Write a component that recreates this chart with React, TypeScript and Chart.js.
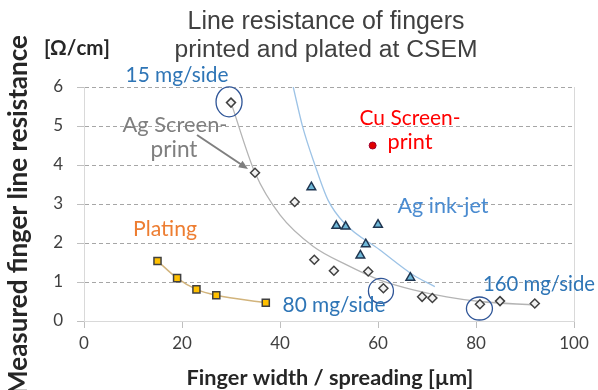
import React, { useEffect, useRef } from "react";
import { Chart, registerables } from "chart.js";

Chart.register(...registerables);

// ---- data ----
const screenX = [30.0, 34.9, 43.0, 47.0, 51.0, 58.0, 61.1, 69.0, 71.1, 80.8, 84.9, 92.0];
const screenY = [5.6, 3.8, 3.05, 1.57, 1.29, 1.27, 0.84, 0.62, 0.59, 0.43, 0.51, 0.45];
const inkjetX = [46.4, 51.5, 53.4, 60.0, 57.5, 56.4, 66.6];
const inkjetY = [3.43, 2.44, 2.42, 2.47, 1.97, 1.68, 1.11];
const platingX = [15.0, 19.0, 22.95, 27.0, 37.1];
const platingY = [1.54, 1.1, 0.81, 0.66, 0.47];
const cuX = [58.9];
const cuY = [4.5];
const screenTrendX = [30, 34.9, 40, 46.8, 53.6, 60.4, 67.2, 74.0, 80.8, 92.0];
const screenTrendY = [5.6, 3.8, 2.72, 1.91, 1.44, 1.05, 0.8, 0.62, 0.5, 0.41];
const inkjetTrendX = [42.7, 44.6, 47.1, 49.8, 53.2, 60.4, 67.2, 71.6];
const inkjetTrendY = [6.0, 4.99, 4.01, 3.1, 2.5, 1.82, 1.18, 0.88];
const platingTrendX = [15.0, 19.0, 22.95, 27.0, 37.1];
const platingTrendY = [1.54, 1.1, 0.81, 0.66, 0.47];
// circled points (mg/side markers)
const circledX = [29.6, 60.6, 80.7];
const circledY = [5.62, 0.77, 0.32];

const xTicks = [0, 20, 40, 60, 80, 100];
const yTicks = [0, 1, 2, 3, 4, 5, 6];

const titleLines = ["Line resistance of fingers", "printed and plated at CSEM"];
const xTitle = "Finger width / spreading [µm]";
const yTitle = "Measured finger line resistance";
const yUnit = "[Ω/cm]";

const pts = (xs: number[], ys: number[]) => xs.map((x, i) => ({ x, y: ys[i] }));

const CAL = "Lato, 'Open Sans', sans-serif";
const ARIAL = "'Liberation Sans', Arial, sans-serif";

function fitText(
  ctx: CanvasRenderingContext2D,
  text: string,
  cx: number,
  cy: number,
  width: number,
  family: string,
  weight: string,
  color: string
) {
  ctx.font = `${weight} 100px ${family}`;
  const w = ctx.measureText(text).width;
  const size = (100 * width) / w;
  ctx.font = `${weight} ${size}px ${family}`;
  ctx.fillStyle = color;
  ctx.textAlign = "center";
  ctx.textBaseline = "middle";
  ctx.fillText(text, cx, cy);
}

const decorPlugin = {
  id: "decor",
  afterDatasetsDraw(chart: any) {
    const ctx: CanvasRenderingContext2D = chart.ctx;
    const xs = chart.scales.x;
    const ys = chart.scales.y;
    ctx.save();
    // ellipses around marked points
    const radii = [
      [13, 15],
      [12.5, 12.5],
      [13, 11.5],
    ];
    ctx.strokeStyle = "#2f5597";
    ctx.lineWidth = 1.3;
    circledX.forEach((v, i) => {
      const px = xs.getPixelForValue(v);
      const py = ys.getPixelForValue(circledY[i]);
      ctx.beginPath();
      ctx.ellipse(px, py, radii[i][0], radii[i][1], 0, 0, Math.PI * 2);
      ctx.stroke();
    });
    // arrow Ag screen print
    const ax1 = 197, ay1 = 135, ax2 = 248, ay2 = 169;
    ctx.strokeStyle = "#7f7f7f";
    ctx.fillStyle = "#7f7f7f";
    ctx.lineWidth = 2;
    ctx.beginPath();
    ctx.moveTo(ax1, ay1);
    ctx.lineTo(ax2 - 6, ay2 - 4);
    ctx.stroke();
    const ang = Math.atan2(ay2 - ay1, ax2 - ax1);
    ctx.beginPath();
    ctx.moveTo(ax2, ay2);
    ctx.lineTo(ax2 - 10 * Math.cos(ang - 0.4), ay2 - 10 * Math.sin(ang - 0.4));
    ctx.lineTo(ax2 - 10 * Math.cos(ang + 0.4), ay2 - 10 * Math.sin(ang + 0.4));
    ctx.closePath();
    ctx.fill();

    // annotation texts
    fitText(ctx, "15 mg/side", 177, 75, 103, CAL, "400", "#2e75b6");
    fitText(ctx, "80 mg/side", 334, 305, 103, CAL, "400", "#2e75b6");
    fitText(ctx, "160 mg/side", 539, 284, 112, CAL, "400", "#2e75b6");
    fitText(ctx, "Ag Screen-", 175, 125, 105, CAL, "400", "#7f7f7f");
    fitText(ctx, "print", 174, 150, 47, CAL, "400", "#7f7f7f");
    fitText(ctx, "Cu Screen-", 410, 118, 101, CAL, "400", "#ff0000");
    fitText(ctx, "print", 410, 142, 45, CAL, "400", "#ff0000");
    fitText(ctx, "Ag ink-jet", 443, 206, 91, CAL, "400", "#4a8bd0");
    fitText(ctx, "Plating", 165, 229, 64, CAL, "400", "#ed7d31");
    ctx.restore();
  },
  afterDraw(chart: any) {
    const ctx: CanvasRenderingContext2D = chart.ctx;
    ctx.save();
    fitText(ctx, titleLines[0], 326, 22, 277, ARIAL, "400", "#404040");
    fitText(ctx, titleLines[1], 326, 50, 303, ARIAL, "400", "#404040");
    fitText(ctx, yUnit, 77, 48, 66, CAL, "700", "#262626");
    fitText(ctx, xTitle, 330, 378, 287, CAL, "700", "#262626");
    ctx.translate(19, 215);
    ctx.rotate(-Math.PI / 2);
    fitText(ctx, yTitle, 0, 0, 360, CAL, "700", "#262626");
    ctx.restore();
  },
};

export default function App() {
  const ref = useRef<HTMLCanvasElement>(null);
  useEffect(() => {
    if (!ref.current) return;
    const chart = new Chart(ref.current, {
      type: "scatter",
      data: {
        datasets: [
          {
            label: "Ag screen-print",
            data: pts(screenX, screenY),
            pointStyle: "rectRot",
            pointRadius: 4.5,
            backgroundColor: "#f2f2f2",
            borderColor: "#404040",
            borderWidth: 1.5,
            order: 1,
          },
          {
            label: "Ag ink-jet",
            data: pts(inkjetX, inkjetY),
            pointStyle: "triangle",
            pointRadius: 5,
            backgroundColor: "#6fb8d8",
            borderColor: "#1f3550",
            borderWidth: 1.5,
            order: 1,
          },
          {
            label: "Plating",
            data: pts(platingX, platingY),
            pointStyle: "rect",
            pointRadius: 5,
            backgroundColor: "#ffc000",
            borderColor: "#404040",
            borderWidth: 1.5,
            order: 1,
          },
          {
            label: "Cu screen-print",
            data: pts(cuX, cuY),
            pointStyle: "circle",
            pointRadius: 3.5,
            backgroundColor: "#e00000",
            borderColor: "#a00030",
            borderWidth: 1,
            order: 1,
          },
          {
            label: "screen trend",
            data: pts(screenTrendX, screenTrendY),
            showLine: true,
            pointRadius: 0,
            borderColor: "#b4b4b4",
            borderWidth: 1.3,
            cubicInterpolationMode: "monotone",
            order: 5,
          },
          {
            label: "inkjet trend",
            data: pts(inkjetTrendX, inkjetTrendY),
            showLine: true,
            pointRadius: 0,
            borderColor: "#9dc3e6",
            borderWidth: 1.3,
            cubicInterpolationMode: "monotone",
            order: 5,
          },
          {
            label: "plating trend",
            data: pts(platingTrendX, platingTrendY),
            showLine: true,
            pointRadius: 0,
            borderColor: "#d2b47c",
            borderWidth: 1.5,
            cubicInterpolationMode: "monotone",
            order: 5,
          },
        ],
      },
      options: {
        animation: false,
        responsive: true,
        maintainAspectRatio: false,
        layout: { padding: { top: 87, right: 24, left: 0, bottom: 0 } },
        plugins: { legend: { display: false }, tooltip: { enabled: false }, title: { display: false } },
        scales: {
          x: {
            type: "linear",
            min: 0,
            max: 100,
            afterBuildTicks: (s: any) => {
              s.ticks = xTicks.map((v) => ({ value: v }));
            },
            afterFit: (s: any) => {
              s.height = 69;
            },
            ticks: { font: { family: CAL, size: 17 }, color: "#404040", padding: 5 },
            grid: {
              color: (c: any) => (c.tick && c.tick.value === 100 ? "#d9d9d9" : "rgba(0,0,0,0)"),
              tickColor: "#bfbfbf",
              tickLength: 7,
              lineWidth: 1,
            },
            border: { color: "#d9d9d9", width: 1 },
          },
          y: {
            type: "linear",
            min: 0,
            max: 6,
            afterBuildTicks: (s: any) => {
              s.ticks = yTicks.map((v) => ({ value: v }));
            },
            afterFit: (s: any) => {
              s.width = 84;
            },
            ticks: { font: { family: CAL, size: 17 }, color: "#404040", padding: 14 },
            grid: {
              color: (c: any) => (c.tick && c.tick.value === 0 ? "rgba(0,0,0,0)" : "#a6a6a6"),
              tickColor: "#bfbfbf",
              tickLength: 7,
              lineWidth: 1,
            },
            border: { color: "#d9d9d9", width: 1, dash: [4, 3] },
          },
        },
      },
      plugins: [decorPlugin],
    } as any);
    return () => chart.destroy();
  }, []);
  return (
    <div style={{ position: "absolute", left: 0, top: 0, width: 598, height: 390, background: "#fff" }}>
      <canvas ref={ref} />
    </div>
  );
}
